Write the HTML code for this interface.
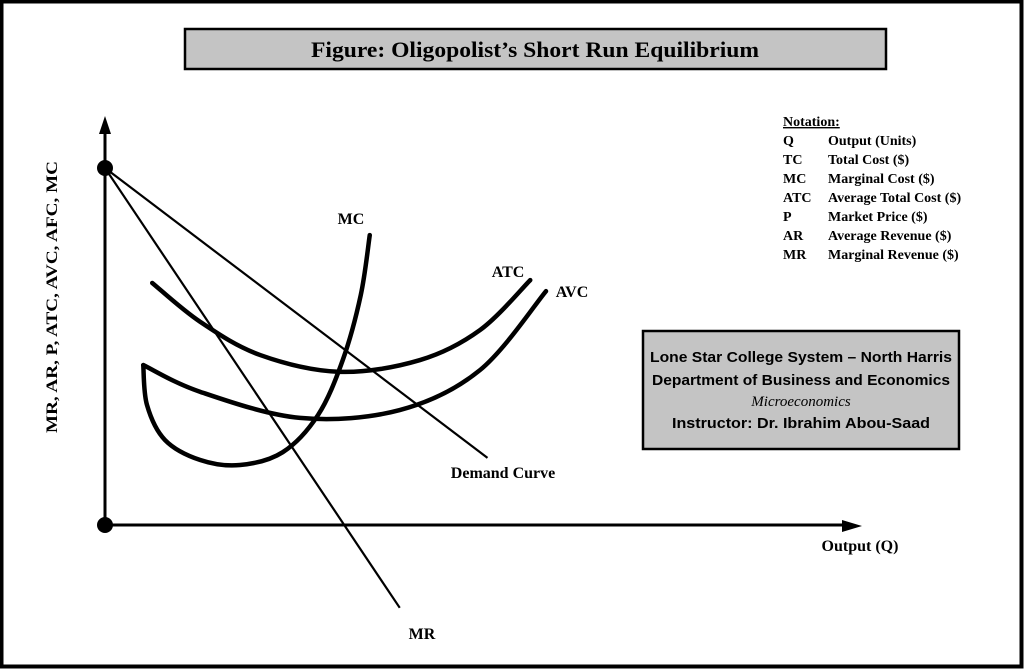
<!DOCTYPE html>
<html><head><meta charset="utf-8"><style>
html,body{margin:0;padding:0;background:#fff;}
svg{display:block;}
text{font-family:"Liberation Serif",serif;font-weight:bold;fill:#000;}
.sans{font-family:"Liberation Sans",sans-serif;}
</style></head><body>
<svg id="chart" width="1024" height="669" viewBox="0 0 1024 669">
<rect x="1.5" y="1.5" width="1020" height="665" fill="#fff" stroke="#000" stroke-width="4"/>
<rect x="185" y="29" width="701" height="40" fill="#c4c4c4" stroke="#000" stroke-width="2.5"/>
<text x="535" y="57" font-size="22" text-anchor="middle" textLength="448" lengthAdjust="spacingAndGlyphs">Figure: Oligopolist’s Short Run Equilibrium</text>
<g id="notation" font-size="14">
<text x="783" y="126" text-decoration="underline">Notation:</text>
</g>
<rect x="643" y="331" width="316" height="118" fill="#c4c4c4" stroke="#000" stroke-width="2.5"/>
<text class="sans" x="801" y="362" font-size="14.5" text-anchor="middle" textLength="302" lengthAdjust="spacingAndGlyphs">Lone Star College System – North Harris</text>
<text class="sans" x="801" y="385" font-size="14.5" text-anchor="middle" textLength="298" lengthAdjust="spacingAndGlyphs">Department of Business and Economics</text>
<text x="801" y="406" font-size="15" text-anchor="middle" font-style="italic" style="font-weight:normal">Microeconomics</text>
<text class="sans" x="801" y="428" font-size="14.5" text-anchor="middle" textLength="258" lengthAdjust="spacingAndGlyphs">Instructor: Dr. Ibrahim Abou-Saad</text>
<g id="plot"></g>
<text x="57" y="297" font-size="16" text-anchor="middle" transform="rotate(-90 57 297)" textLength="272" lengthAdjust="spacingAndGlyphs">MR, AR, P, ATC, AVC, AFC, MC</text>
<text x="860" y="551" font-size="16" text-anchor="middle">Output (Q)</text>
<text x="351" y="224" font-size="16" text-anchor="middle">MC</text>
<text x="508" y="277" font-size="16" text-anchor="middle">ATC</text>
<text x="572" y="297" font-size="16" text-anchor="middle">AVC</text>
<text x="503" y="478" font-size="16" text-anchor="middle">Demand Curve</text>
<text x="422" y="639" font-size="16" text-anchor="middle">MR</text>
</svg>
<script>
const notationKeys=["Q","TC","MC","ATC","P","AR","MR"];
const notationDesc=["Output (Units)","Total Cost ($)","Marginal Cost ($)","Average Total Cost ($)","Market Price ($)","Average Revenue ($)","Marginal Revenue ($)"];
const atcX=[6.3,12.7,20.7,31.3,42,50,56.7];
const atcY=[67.8,56.9,47.6,42.9,46.2,54.6,68.6];
const avcX=[5.1,12.7,26,39.3,50,58.8];
const avcY=[44.8,37.3,30,32.2,43.4,65.5];
const mcX=[5.1,5.6,8,12.7,18,23.7,28.4,31.7,34.1,35.3];
const mcY=[44.8,33.6,23.8,18.2,16.8,20.4,30.8,46.2,64.4,81.2];
const demandX=[0,51];
const demandY=[100,18.8];
const mrX=[0,39.3];
const mrY=[100,-23.2];
const NS="http://www.w3.org/2000/svg";
const xs=v=>105+v*7.5, ys=v=>525-v*3.57;
const plot=document.getElementById('plot');
function mk(t,a){const e=document.createElementNS(NS,t);for(const k in a)e.setAttribute(k,a[k]);return e;}
const nt=document.getElementById('notation');
notationKeys.forEach((k,i)=>{
  const a=mk('text',{x:783,y:145+i*19});a.textContent=k;
  
  
  nt.appendChild(a);
  const b=mk('text',{x:828,y:145+i*19});b.textContent=notationDesc[i];
  
  
  nt.appendChild(b);
});
const ya=mk('line',{x1:105,y1:525,x2:105,y2:132,stroke:'#000','stroke-width':3});


plot.appendChild(ya);
const yh=mk('polygon',{points:'105,116 99,134 111,134',fill:'#000'});


plot.appendChild(yh);
const xa=mk('line',{x1:105,y1:525,x2:845,y2:525,stroke:'#000','stroke-width':3});


plot.appendChild(xa);
const xh=mk('polygon',{points:'862,526 842,520 842,532',fill:'#000'});


plot.appendChild(xh);
function smooth(X,Y){
  const p=X.map((x,i)=>[xs(x),ys(Y[i])]);
  let d='M'+p[0][0]+','+p[0][1];
  for(let i=0;i<p.length-1;i++){
    const p0=p[i-1]||p[i],p1=p[i],p2=p[i+1],p3=p[i+2]||p2;
    const c1=[p1[0]+(p2[0]-p0[0])/6,p1[1]+(p2[1]-p0[1])/6];
    const c2=[p2[0]-(p3[0]-p1[0])/6,p2[1]-(p3[1]-p1[1])/6];
    d+=' C'+c1+' '+c2+' '+p2;
  }
  return d;
}
function line(X,Y,name){
  const l=mk('line',{x1:xs(X[0]),y1:ys(Y[0]),x2:xs(X[1]),y2:ys(Y[1]),stroke:'#000','stroke-width':2.2});
  
  
  plot.appendChild(l);
}
line(demandX,demandY,'demand-curve');
line(mrX,mrY,'mr-curve');
function curve(X,Y,name){
  const c=mk('path',{d:smooth(X,Y),fill:'none',stroke:'#000','stroke-width':4.5,'stroke-linecap':'round'});
  
  
  plot.appendChild(c);
}
curve(atcX,atcY,'atc-curve');
curve(avcX,avcY,'avc-curve');
curve(mcX,mcY,'mc-curve');
const d1=mk('circle',{cx:xs(0),cy:ys(100),r:8,fill:'#000'});


plot.appendChild(d1);
const d2=mk('circle',{cx:xs(0),cy:ys(0),r:8,fill:'#000'});


plot.appendChild(d2);
</script>
</body></html>
